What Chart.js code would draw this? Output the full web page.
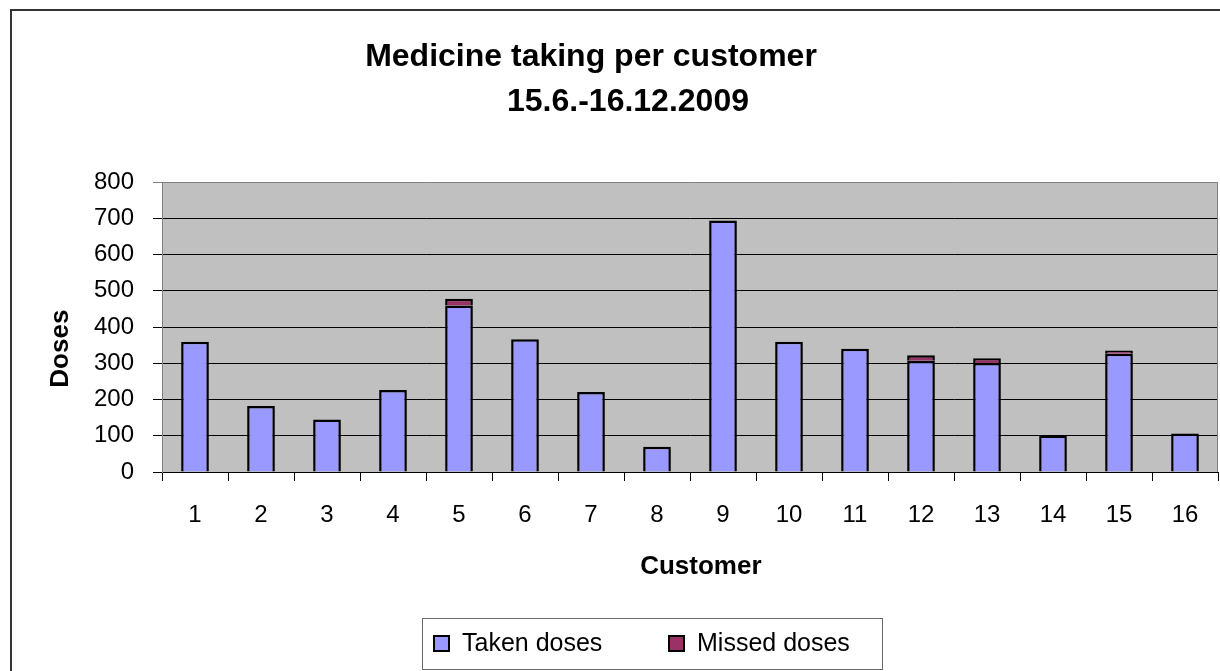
<!DOCTYPE html>
<html>
<head>
<meta charset="utf-8">
<script src="https://cdn.jsdelivr.net/npm/chart.js@4/dist/chart.umd.min.js"></script>
<style>
html,body{margin:0;padding:0;overflow:hidden;background:#fff;width:1220px;height:671px;}
canvas{display:block;}
</style>
</head>
<body>
<canvas id="c" width="1300" height="690"></canvas>
<script>
const categories = ['1','2','3','4','5','6','7','8','9','10','11','12','13','14','15','16'];
const takenDoses  = [359, 182, 145, 226, 459, 366, 221, 70, 694, 359, 340, 307, 301, 101, 326, 106];
const missedDoses = [0, 0, 0, 0, 19, 0, 0, 0, 0, 0, 0, 15, 13, 0, 9, 0];
const seriesNames = ['Taken doses', 'Missed doses'];
const yTicks = [0, 100, 200, 300, 400, 500, 600, 700, 800];
const titleLines = ['Medicine taking per customer', '15.6.-16.12.2009'];

const FONT = '"Liberation Sans", Arial, Helvetica, sans-serif';

const decor = {
  id: 'decor',
  beforeDraw(chart) {
    const ctx = chart.ctx, a = chart.chartArea;
    ctx.save();
    ctx.fillStyle = '#fff';
    ctx.fillRect(0, 0, chart.width, chart.height);
    ctx.fillStyle = '#C0C0C0';
    ctx.fillRect(a.left, a.top, a.right - a.left, a.bottom - a.top);
    ctx.restore();
  },
  afterDraw(chart) {
    const ctx = chart.ctx, a = chart.chartArea;
    ctx.save();
    ctx.strokeStyle = '#808080';
    ctx.lineWidth = 1;
    ctx.beginPath();
    ctx.moveTo(Math.round(a.right) - 0.5, a.top);
    ctx.lineTo(Math.round(a.right) - 0.5, a.bottom);
    ctx.stroke();
    ctx.strokeStyle = '#333';
    ctx.lineWidth = 2;
    ctx.strokeRect(11, 10, chart.width - 20, chart.height);
    ctx.fillStyle = '#000';
    ctx.font = 'bold 32px ' + FONT;
    ctx.textAlign = 'center';
    ctx.textBaseline = 'alphabetic';
    ctx.fillText(titleLines[0], 591, 66);
    ctx.fillText(titleLines[1], 628, 111);
    ctx.strokeStyle = '#6a6a6a';
    ctx.lineWidth = 1;
    ctx.strokeRect(422.5, 618.5, 460, 51);
    const itemX = [433, 668];
    ctx.font = '25px ' + FONT;
    ctx.textAlign = 'left';
    chart.data.datasets.forEach((ds, i) => {
      const x = itemX[i];
      ctx.fillStyle = ds.backgroundColor;
      ctx.fillRect(x, 635, 17, 17);
      ctx.strokeStyle = '#000';
      ctx.lineWidth = 2;
      ctx.strokeRect(x + 1, 636, 15, 15);
      ctx.fillStyle = '#000';
      ctx.fillText(ds.label, x + 29, 651);
    });
    ctx.restore();
  }
};

new Chart(document.getElementById('c'), {
  type: 'bar',
  data: {
    labels: categories,
    datasets: [
      { label: seriesNames[0], data: takenDoses, backgroundColor: '#9999FF', borderColor: '#000', borderWidth: 2.5,
        barPercentage: 0.42, categoryPercentage: 1.0 },
      { label: seriesNames[1], data: missedDoses, backgroundColor: '#993366', borderColor: '#000', borderWidth: 2.5,
        barPercentage: 0.42, categoryPercentage: 1.0 }
    ]
  },
  options: {
    responsive: false,
    animation: false,
    devicePixelRatio: 1,
    layout: { padding: { left: 11, top: 182, right: 82, bottom: 108 } },
    plugins: { legend: { display: false }, title: { display: false }, tooltip: { enabled: false } },
    scales: {
      x: {
        stacked: true,
        afterFit(s) { s.height = 110; },
        grid: { offset: true, drawOnChartArea: false, drawTicks: true, tickLength: 9, color: '#000', lineWidth: 1 },
        border: { display: true, color: '#000', width: 1 },
        ticks: { color: '#000', font: { family: FONT, size: 24 }, padding: 20, maxRotation: 0, autoSkip: false },
        title: { display: true, text: '   Customer', color: '#000', font: { family: FONT, size: 26, weight: 'bold' },
                 padding: { top: 0, bottom: 0 } }
      },
      y: {
        stacked: true,
        min: 0, max: 800,
        afterFit(s) { s.width = 151; },
        afterBuildTicks(s) { s.ticks = yTicks.map(v => ({ value: v })); },
        grid: { drawTicks: true, tickLength: 9, lineWidth: 1,
                color: c => (c.tick && c.tick.value === 800) ? '#808080' : '#000' },
        border: { display: true, color: '#808080', width: 1 },
        ticks: { color: '#000', font: { family: FONT, size: 24 }, padding: 19 },
        title: { display: true, text: 'Doses      ', color: '#000', font: { family: FONT, size: 26, weight: 'bold' },
                 padding: { top: 34, bottom: 0 } }
      }
    }
  },
  plugins: [decor]
});
</script>
</body>
</html>
